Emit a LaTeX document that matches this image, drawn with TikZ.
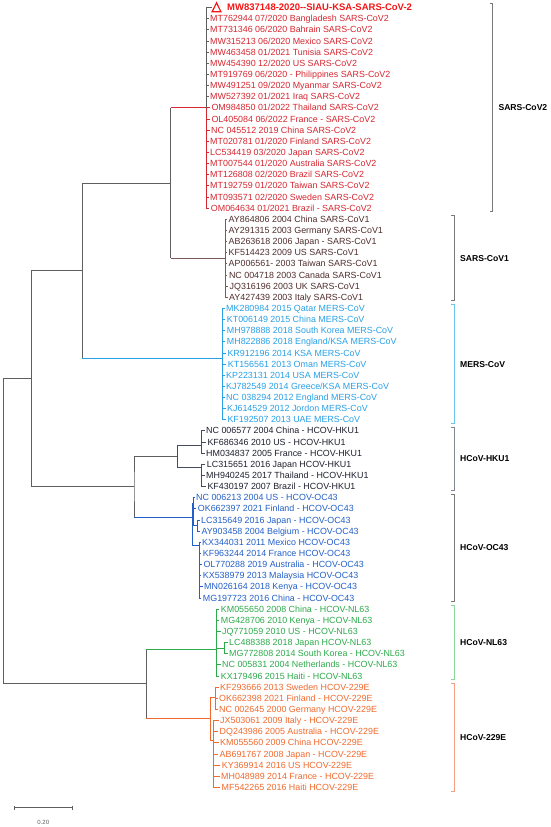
\documentclass[tikz,border=0pt]{standalone}
\usepackage{fontspec}
\setmainfont{Liberation Sans}
\definecolor{trunk}{RGB}{95,95,95}
\definecolor{covtwo}{RGB}{214,38,48}
\definecolor{covtitle}{RGB}{245,20,20}
\definecolor{covone}{RGB}{80,45,45}
\definecolor{covoneline}{RGB}{125,90,90}
\definecolor{mers}{RGB}{40,160,230}
\definecolor{merslight}{RGB}{110,195,240}
\definecolor{hkuone}{RGB}{30,32,45}
\definecolor{hkuoneline}{RGB}{70,76,95}
\definecolor{hkuonelight}{RGB}{130,135,150}
\definecolor{ocfour}{RGB}{35,95,200}
\definecolor{nlsix}{RGB}{45,170,75}
\definecolor{nlsixlight}{RGB}{140,215,155}
\definecolor{twotwonine}{RGB}{240,105,45}
\definecolor{twotwoninelight}{RGB}{245,160,130}
\definecolor{brk}{RGB}{120,120,120}
\tikzset{
	leaf/.style={anchor=west, inner xsep=1.5pt, inner ysep=0pt, text height=6.3pt, text depth=0pt, font=\fontsize{8.9}{9.5}\selectfont},
	branch/.style={line width=0.7pt},
	bracket/.style={line width=0.8pt},
	clade/.style={anchor=west, inner sep=0pt, text height=6.2pt, text depth=0pt, font=\fontsize{8.6}{9}\selectfont\bfseries},
}
\begin{document}
\begin{tikzpicture}[x=1pt,y=-11.14pt]
						\useasboundingbox (0,-0.673) rectangle (550,73.56);
						\coordinate (root) at (3.5,47);
						\coordinate (nC) at (31.7,33.3);
						\coordinate (nA) at (82.3,23.6);
						\coordinate (nB) at (134,43.0);
						\coordinate (nD) at (146,60.7);
						\coordinate (sars) at (170.7,15.75);
						\coordinate (cov2) at (206.7,9);
						\coordinate (cov1) at (225,22.5);
						\coordinate (mers) at (222.7,31.5);
						\coordinate (hku1) at (177.3,40.3);
						\coordinate (hku1a) at (201.7,39.3);
						\coordinate (hku1b) at (201.7,41.3);
						\coordinate (oc43) at (192.7,45.76);
						\coordinate (oc43a) at (193.6,44.5);
						\coordinate (oc43b) at (199.3,48.3);
						\coordinate (oc43c) at (197.5,46.5);
						\coordinate (nl63) at (216.7,57.6);
						\coordinate (nl63b) at (224.5,57.5);
						\coordinate (e229) at (210,63.8);
						\coordinate (e229a) at (215,61.9);
						\coordinate (e229b) at (213,65.75);
						\coordinate (tri) at (211.5,0);
						\draw[covtitle, line width=1.2pt, line join=miter] (tri) ++(0.6,0.38) -- ++(8.8,0) -- ++(-4.4,-0.8) -- cycle;
						\node[leaf, covtitle, text height=6.8pt, font=\fontsize{9.5}{10}\selectfont\bfseries] (MW837148) at (225.5,0) {MW837148-2020-{}-SIAU-KSA-SARS-CoV-2};
						\node[leaf, covtwo] (MT762944) at (208.5,1) {MT762944 07/2020 Bangladesh SARS-CoV2};
						\node[leaf, covtwo] (MT731346) at (208.5,2) {MT731346 06/2020 Bahrain SARS-CoV2};
						\node[leaf, covtwo] (MW315213) at (208.5,3) {MW315213 06/2020 Mexico SARS-CoV2};
						\node[leaf, covtwo] (MW463458) at (208.5,4) {MW463458 01/2021 Tunisia SARS-CoV2};
						\node[leaf, covtwo] (MW454390) at (208.5,5) {MW454390 12/2020 US SARS-CoV2};
						\node[leaf, covtwo] (MT919769) at (208.5,6) {MT919769 06/2020 - Philippines SARS-CoV2};
						\node[leaf, covtwo] (MW491251) at (208.5,7) {MW491251 09/2020 Myanmar SARS-CoV2};
						\node[leaf, covtwo] (MW527392) at (208.5,8) {MW527392 01/2021 Iraq SARS-CoV2};
						\node[leaf, covtwo] (OM984850) at (209.8,9) {OM984850 01/2022 Thailand SARS-CoV2};
						\node[leaf, covtwo] (OL405084) at (209.8,10) {OL405084 06/2022 France - SARS-CoV2};
						\node[leaf, covtwo] (NC045512) at (209.5,11) {NC 045512 2019 China SARS-CoV2};
						\node[leaf, covtwo] (MT020781) at (208.5,12) {MT020781 01/2020 Finland SARS-CoV2};
						\node[leaf, covtwo] (LC534419) at (208.5,13) {LC534419 03/2020 Japan SARS-CoV2};
						\node[leaf, covtwo] (MT007544) at (208.5,14) {MT007544 01/2020 Australia SARS-CoV2};
						\node[leaf, covtwo] (MT126808) at (208.5,15) {MT126808 02/2020 Brazil SARS-CoV2};
						\node[leaf, covtwo] (MT192759) at (208.5,16) {MT192759 01/2020 Taiwan SARS-CoV2};
						\node[leaf, covtwo] (MT093571) at (208.5,17) {MT093571 02/2020 Sweden SARS-CoV2};
						\node[leaf, covtwo] (OM064634) at (209.2,18) {OM064634 01/2021 Brazil - SARS-CoV2};
						\node[leaf, covone] (AY864806) at (227,19) {AY864806 2004 China SARS-CoV1};
						\node[leaf, covone] (AY291315) at (227,20) {AY291315 2003 Germany SARS-CoV1};
						\node[leaf, covone] (AB263618) at (227,21) {AB263618 2006 Japan - SARS-CoV1};
						\node[leaf, covone] (KF514423) at (227,22) {KF514423 2009 US SARS-CoV1};
						\node[leaf, covone] (AP006561) at (227,23) {AP006561- 2003 Taiwan SARS-CoV1};
						\node[leaf, covone] (NC004718) at (227.3,24) {NC 004718 2003 Canada SARS-CoV1};
						\node[leaf, covone] (JQ316196) at (228,25) {JQ316196 2003 UK SARS-CoV1};
						\node[leaf, covone] (AY427439) at (227.5,26) {AY427439 2003 Italy SARS-CoV1};
						\node[leaf, mers] (MK280984) at (224.5,27) {MK280984 2015 Qatar MERS-CoV};
						\node[leaf, mers] (KT006149) at (225.2,28) {KT006149 2015 China MERS-CoV};
						\node[leaf, mers] (MH978888) at (225.2,29) {MH978888 2018 South Korea MERS-CoV};
						\node[leaf, mers] (MH822886) at (225.2,30) {MH822886 2018 England/KSA MERS-CoV};
						\node[leaf, mers] (KR912196) at (225.8,31) {KR912196 2014 KSA MERS-CoV};
						\node[leaf, mers] (KT156561) at (226.2,32) {KT156561 2013 Oman MERS-CoV};
						\node[leaf, mers] (KP223131) at (224.5,33) {KP223131 2014 USA MERS-CoV};
						\node[leaf, mers] (KJ782549) at (224.5,34) {KJ782549 2014 Greece/KSA MERS-CoV};
						\node[leaf, mers] (NC038294) at (224.5,35) {NC 038294 2012 England MERS-CoV};
						\node[leaf, mers] (KJ614529) at (225.5,36) {KJ614529 2012 Jordon MERS-CoV};
						\node[leaf, mers] (KF192507) at (225.8,37) {KF192507 2013 UAE MERS-CoV};
						\node[leaf, hkuone] (NC006577) at (204.5,38) {NC 006577 2004 China - HCOV-HKU1};
						\node[leaf, hkuone] (KF686346) at (205.8,39) {KF686346 2010 US - HCOV-HKU1};
						\node[leaf, hkuone] (HM034837) at (204.5,40) {HM034837 2005 France - HCOV-HKU1};
						\node[leaf, hkuone] (LC315651) at (205.2,41) {LC315651 2016 Japan HCOV-HKU1};
						\node[leaf, hkuone] (MH940245) at (204.5,42) {MH940245 2017 Thailand - HCOV-HKU1};
						\node[leaf, hkuone] (KF430197) at (205.8,43) {KF430197 2007 Brazil - HCOV-HKU1};
						\node[leaf, ocfour] (NC006213) at (194.5,44) {NC 006213 2004 US - HCOV-OC43};
						\node[leaf, ocfour] (OK662397) at (196.2,45) {OK662397 2021 Finland - HCOV-OC43};
						\node[leaf, ocfour] (LC315649) at (199.5,46) {LC315649 2016 Japan - HCOV-OC43};
						\node[leaf, ocfour] (AY903458) at (199.8,47) {AY903458 2004 Belgium - HCOV-OC43};
						\node[leaf, ocfour] (KX344031) at (200.5,48) {KX344031 2011 Mexico HCOV-OC43};
						\node[leaf, ocfour] (KF963244) at (201.2,49) {KF963244 2014 France HCOV-OC43};
						\node[leaf, ocfour] (OL770288) at (201.8,50) {OL770288 2019 Australia - HCOV-OC43};
						\node[leaf, ocfour] (KX538979) at (201.2,51) {KX538979 2013 Malaysia HCOV-OC43};
						\node[leaf, ocfour] (MN026164) at (202.5,52) {MN026164 2018 Kenya - HCOV-OC43};
						\node[leaf, ocfour] (MG197723) at (201.2,53) {MG197723 2016 China - HCOV-OC43};
						\node[leaf, nlsix] (KM055650) at (219.2,54) {KM055650 2008 China - HCOV-NL63};
						\node[leaf, nlsix] (MG428706) at (219.2,55) {MG428706 2010 Kenya - HCOV-NL63};
						\node[leaf, nlsix] (JQ771059) at (220.5,56) {JQ771059 2010 US - HCOV-NL63};
						\node[leaf, nlsix] (LC488388) at (227.5,57) {LC488388 2018 Japan HCOV-NL63};
						\node[leaf, nlsix] (MG772808) at (227.5,58) {MG772808 2014 South Korea - HCOV-NL63};
						\node[leaf, nlsix] (NC005831) at (220.5,59) {NC 005831 2004 Netherlands - HCOV-NL63};
						\node[leaf, nlsix] (KX179496) at (219.2,60) {KX179496 2015 Haiti - HCOV-NL63};
						\node[leaf, twotwonine] (KF293666) at (218.5,61) {KF293666 2013 Sweden HCOV-229E};
						\node[leaf, twotwonine] (OK662398) at (217.5,62) {OK662398 2021 Finland - HCOV-229E};
						\node[leaf, twotwonine] (NC002645) at (217.5,63) {NC 002645 2000 Germany HCOV-229E};
						\node[leaf, twotwonine] (JX503061) at (218.5,64) {JX503061 2009 Italy - HCOV-229E};
						\node[leaf, twotwonine] (DQ243986) at (218,65) {DQ243986 2005 Australia - HCOV-229E};
						\node[leaf, twotwonine] (KM055560) at (218.5,66) {KM055560 2009 China HCOV-229E};
						\node[leaf, twotwonine] (AB691767) at (218,67) {AB691767 2008 Japan - HCOV-229E};
						\node[leaf, twotwonine] (KY369914) at (220.2,68) {KY369914 2016 US HCOV-229E};
						\node[leaf, twotwonine] (MH048989) at (219.5,69) {MH048989 2014 France - HCOV-229E};
						\node[leaf, twotwonine] (MF542265) at (220,70) {MF542265 2016 Haiti HCOV-229E};
						\draw[branch, trunk] (nC) -| (root) |- (nD);
						\draw[branch, trunk] (nA) -| (nC) |- (nB);
						\draw[branch, trunk] (sars) -| (nA) |- (nA |- mers);
						\draw[branch, mers] (nA |- mers) -- (mers);
						\draw[branch, trunk] (hku1) -| (nB) |- (nB |- oc43);
						\draw[branch, ocfour] (nB |- oc43) -- (oc43);
						\draw[branch, trunk] (nD |- nl63) -- (nD |- e229);
						\draw[branch, nlsix] (nD |- nl63) -- (nl63);
						\draw[branch, twotwonine] (nD |- e229) -- (e229);
						\draw[branch, trunk] (sars |- cov2) -- (sars |- cov1);
						\draw[branch, covtwo] (sars |- cov2) -- (cov2);
						\draw[branch, covoneline] (sars |- cov1) -- (cov1);
						\draw[branch, trunk] (cov2) |- (tri) (cov2) |- (MT762944.west) (cov2) |- (MT731346.west) (cov2) |- (MW315213.west) (cov2) |- (MW463458.west) (cov2) |- (MW454390.west) (cov2) |- (MT919769.west) (cov2) |- (MW491251.west) (cov2) |- (MW527392.west);
						\draw[branch, covtwo] (cov2) -- (OM984850.west) (cov2) |- (OL405084.west) (cov2) |- (NC045512.west) (cov2) |- (MT020781.west) (cov2) |- (LC534419.west) (cov2) |- (MT007544.west) (cov2) |- (MT126808.west) (cov2) |- (MT192759.west) (cov2) |- (MT093571.west) (cov2) |- (OM064634.west);
						\draw[branch, covoneline] (cov1) |- (AY864806.west) (cov1) |- (AY291315.west) (cov1) |- (AB263618.west) (cov1) |- (KF514423.west) (cov1) |- (AP006561.west) (cov1) |- (NC004718.west) (cov1) |- (JQ316196.west) (cov1) |- (AY427439.west);
						\draw[branch, mers] (mers) |- (MK280984.west) (mers) |- (KT006149.west) (mers) |- (MH978888.west) (mers) |- (MH822886.west) (mers) |- (KR912196.west) (mers) |- (KT156561.west) (mers) |- (KP223131.west) (mers) |- (KJ782549.west) (mers) |- (NC038294.west) (mers) |- (KJ614529.west) (mers) |- (KF192507.west);
						\draw[branch, hkuoneline] (hku1a) -| (hku1) |- (hku1b);
						\draw[branch, hkuoneline] (hku1a) |- (NC006577.west) (hku1a) |- (KF686346.west) (hku1a) |- (HM034837.west) (hku1b) |- (LC315651.west) (hku1b) |- (MH940245.west) (hku1b) |- (KF430197.west);
						\draw[branch, ocfour] (oc43a) -| (oc43) |- (oc43b);
						\draw[branch, ocfour] (oc43a) |- (NC006213.west) (oc43a) |- (OK662397.west) (oc43a) |- (oc43c) (oc43c) |- (LC315649.west) (oc43c) |- (AY903458.west);
						\draw[branch, ocfour] (oc43b) |- (KX344031.west) (oc43b) |- (KF963244.west) (oc43b) |- (OL770288.west) (oc43b) |- (KX538979.west) (oc43b) |- (MN026164.west) (oc43b) |- (MG197723.west);
						\draw[branch, nlsix] (nl63) |- (KM055650.west) (nl63) |- (MG428706.west) (nl63) |- (JQ771059.west) (nl63) |- (nl63b) (nl63b) |- (LC488388.west) (nl63b) |- (MG772808.west) (nl63) |- (NC005831.west) (nl63) |- (KX179496.west);
						\draw[branch, twotwonine] (e229a) -| (e229) |- (e229b);
						\draw[branch, twotwonine] (e229a) |- (KF293666.west) (e229a) |- (OK662398.west) (e229a) |- (NC002645.west) (e229b) |- (JX503061.west) (e229b) |- (DQ243986.west) (e229b) |- (KM055560.west) (e229b) |- (AB691767.west) (e229b) |- (KY369914.west) (e229b) |- (MH048989.west) (e229b) |- (MF542265.west);
						\draw[bracket, brk] (489.7,-0.33) -| (492.7,18.33) -- ++(-3,0);
						\draw[bracket, brk] (451,18.67) -| (454,26.33) -- ++(-3,0);
						\draw[bracket, merslight] (451,26.67) -| (454,37.33) -- ++(-3,0);
						\draw[bracket, hkuonelight] (451,37.67) -| (454,43.33) -- ++(-3,0);
						\draw[bracket, brk] (451,43.67) -| (454,53.33) -- ++(-3,0);
						\draw[bracket, nlsixlight] (451,53.67) -| (454,60.33) -- ++(-3,0);
						\draw[bracket, twotwoninelight] (451,60.67) -| (454,70.33) -- ++(-3,0);
						\node[clade] (lblcov2) at (498.3,9) {SARS-CoV2};
						\node[clade] (lblcov1) at (460,22.5) {SARS-CoV1};
						\node[clade] (lblmers) at (460,32) {MERS-CoV};
						\node[clade] (lblhku1) at (460,40.5) {HCoV-HKU1};
						\node[clade] (lbloc43) at (460,48.5) {HCoV-OC43};
						\node[clade] (lblnl63) at (460,57) {HCoV-NL63};
						\node[clade] (lble229) at (460,65.5) {HCoV-229E};
						\coordinate (sbl) at (14.3,71.83);
						\coordinate (sbr) at (72.3,71.83);
						\draw[branch, trunk] (sbl) -- (sbr) (sbl) ++(0,-0.17) -- ++(0,0.34) (sbr) ++(0,-0.17) -- ++(0,0.34);
						\node[font=\fontsize{6}{7}\selectfont, trunk] (sblabel) at (43.3,73.14) {0.20};
					\end{tikzpicture}
\end{document}
